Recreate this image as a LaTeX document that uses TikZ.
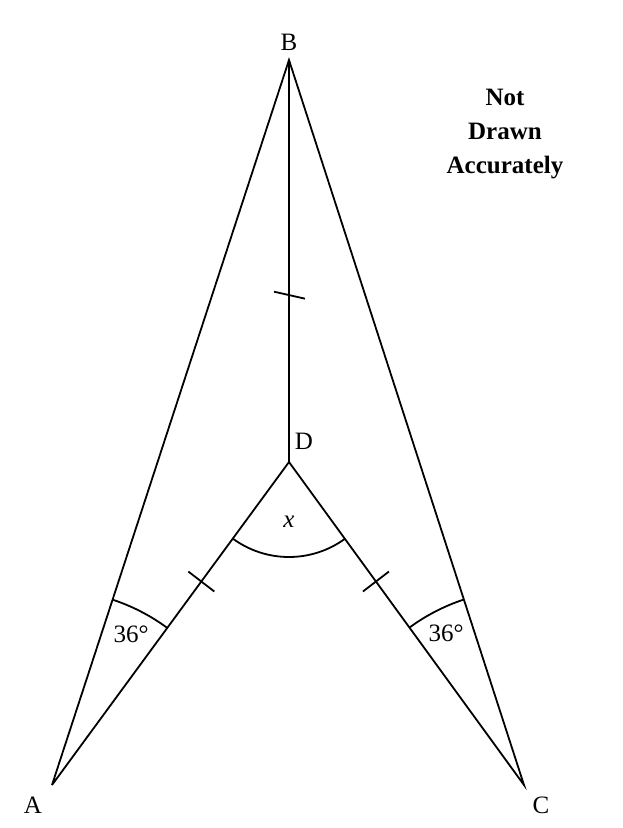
\documentclass[tikz,border=0pt]{standalone}
\usepackage{fontspec}
\setmainfont{Liberation Serif}
\usetikzlibrary{calc}
\begin{document}
\begin{tikzpicture}[x=1pt,y=-1pt,
  edge/.style={line width=1.8pt},
  lbl/.style={font=\fontsize{25}{28}\selectfont, inner sep=0pt},
  note/.style={font=\fontsize{25}{34}\selectfont\bfseries, align=center, inner sep=0pt}]
\useasboundingbox (0,0) rectangle (622,828);
\coordinate (B) at (289,60);
\coordinate (D) at (289,462);
\coordinate (A) at (52,785);
\coordinate (C) at (524,785);
\draw[edge, line join=miter] (A) -- (B) -- (C) -- (D) -- (A);
\draw[edge] (B) -- (D);
% ticks
\draw[edge] ($(D)!0.415!(B)$) ++(-15,-3.5) -- ++(31,7);
\draw[edge] let \p1=($(D)!0.37!(A)$) in (\x1,\y1) ++(-13,-10) -- ++(26,20);
\draw[edge] let \p1=($(D)!0.37!(C)$) in (\x1,\y1) ++(13,-10) -- ++(-26,20);
% angle arcs
\draw[edge] ($(A)!195pt!(B)$) arc[start angle={atan2(-185,61)}, end angle={atan2(-158,116)}, radius=195];
\draw[edge] ($(C)!195pt!(B)$) arc[start angle={atan2(-185,-61)}, end angle={atan2(-158,-116)}, radius=195];
\draw[edge] ($(D)!95pt!(A)$) arc[start angle={atan2(323,-237)}, end angle={atan2(323,235)}, radius=95];
% labels
\node[lbl] (lB) at (289,42) {B};
\node[lbl] (lD) at (304,441) {D};
\node[lbl] (lA) at (33,805) {A};
\node[lbl] (lC) at (541,805) {C};
\node[lbl] (lx) at (289,522) {\textit{x}};
\node[lbl] (a1) at (131,634) {36°};
\node[lbl] (a2) at (446,633) {36°};
\node[note] (nt) at (505,134) {Not\\Drawn\\Accurately};
\end{tikzpicture}
\end{document}
